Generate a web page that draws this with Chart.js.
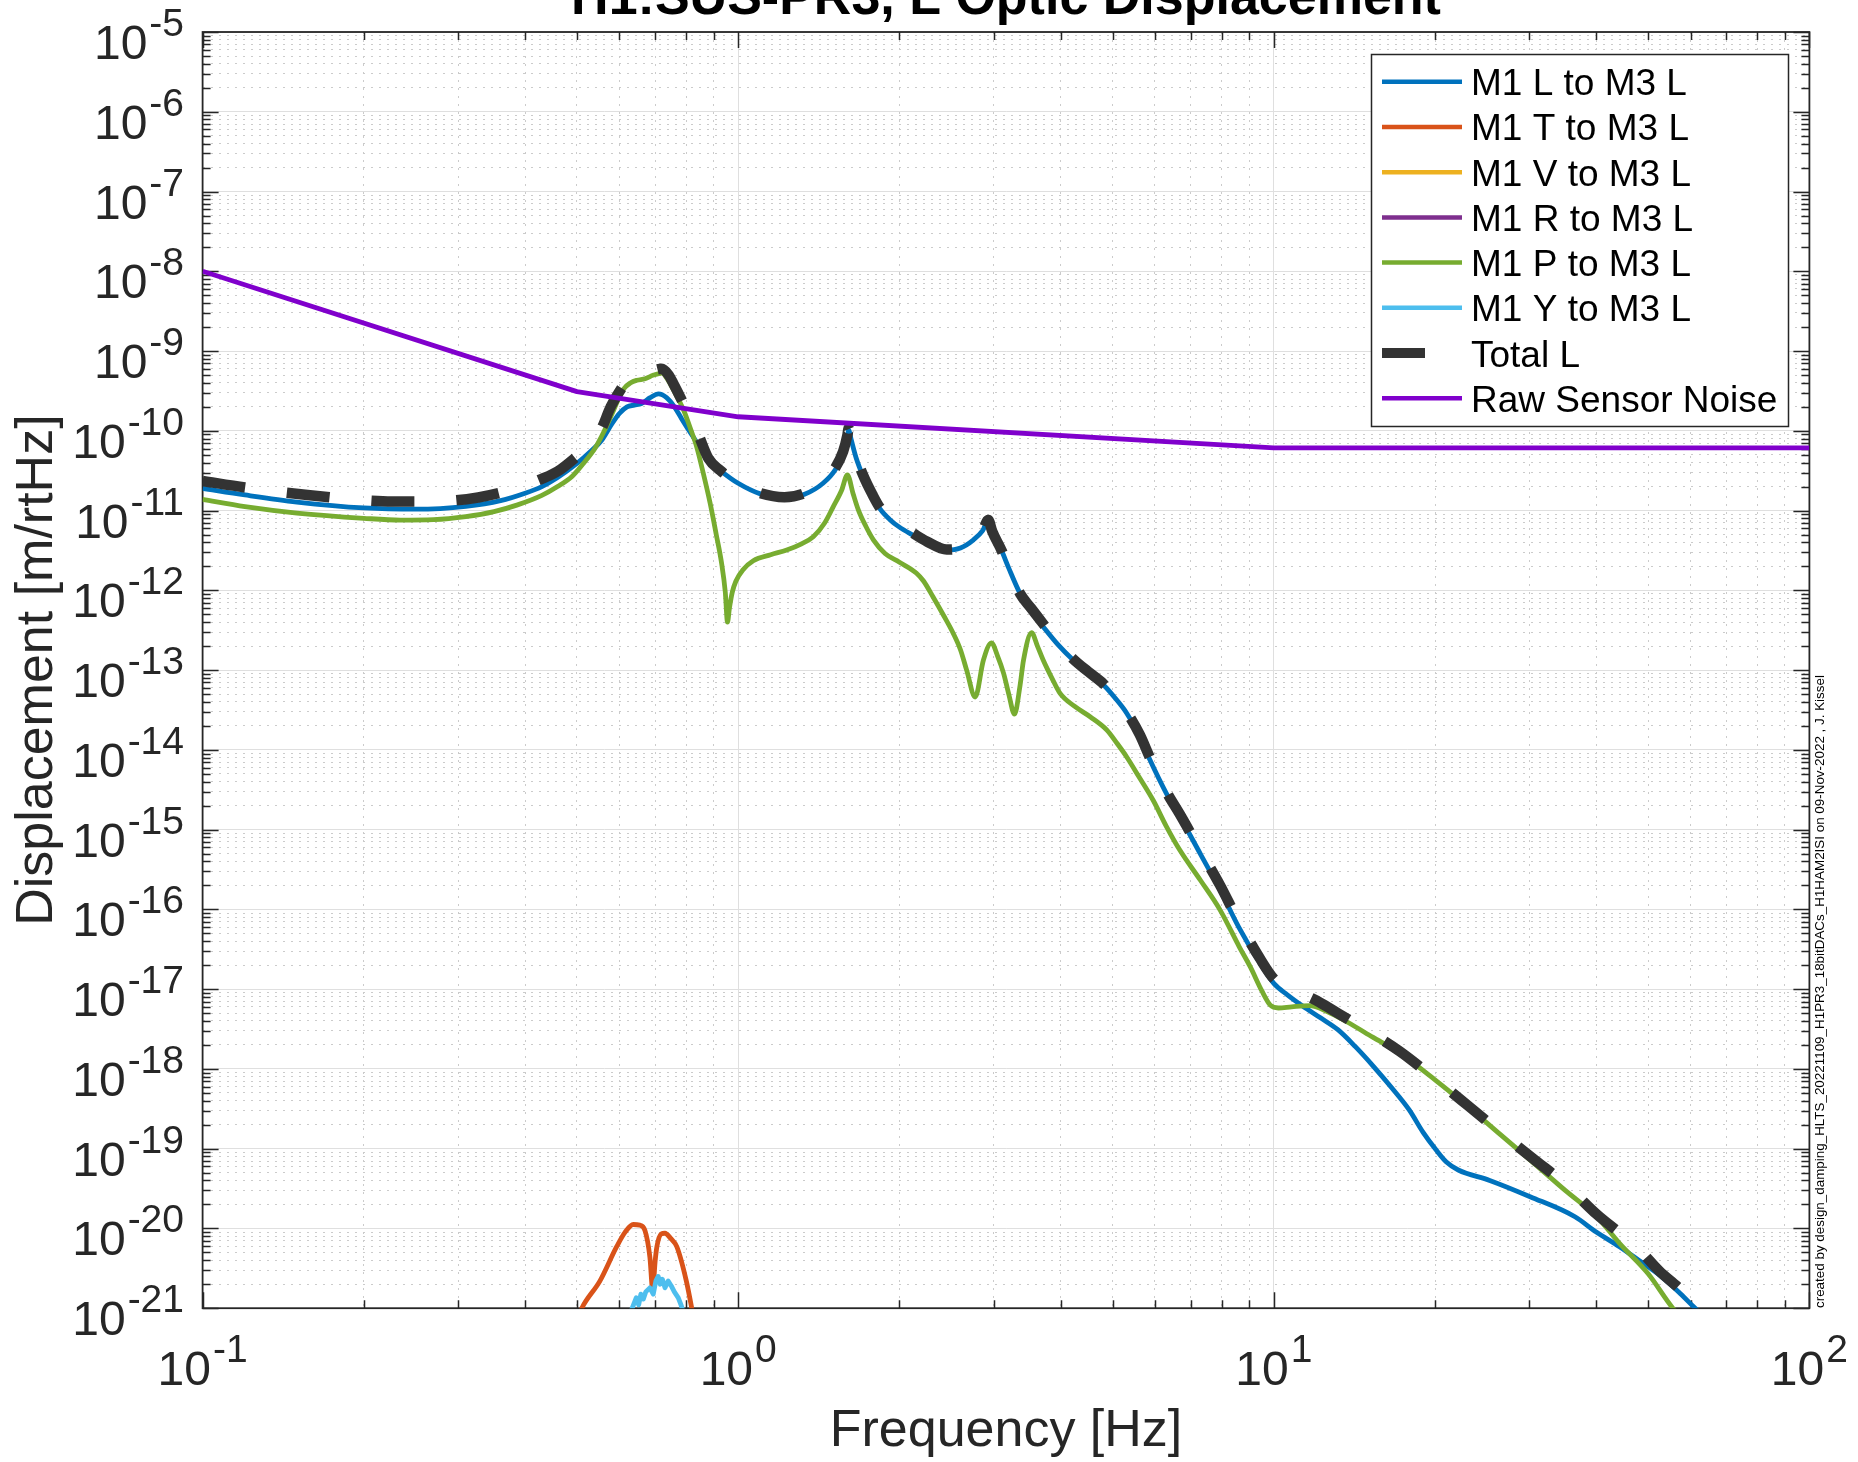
<!DOCTYPE html>
<html>
<head>
<meta charset="utf-8">
<script src="https://cdn.jsdelivr.net/npm/chart.js@4.4.0/dist/chart.umd.min.js"></script>
<style>
html,body{margin:0;padding:0;background:#fff;overflow:hidden}
#wrap{width:1858px;height:1462px}
</style>
</head>
<body>
<div id="wrap"><canvas id="c" width="1858" height="1462"></canvas></div>
<script>
// ---------------- text ----------------
const titleText = 'H1:SUS-PR3, L Optic Displacement';
const xAxisLabel = 'Frequency [Hz]';
const yAxisLabel = 'Displacement [m/rtHz]';
const footnote = 'created by design_damping_HLTS_20221109_H1PR3_18bitDACs_H1HAM2ISI on 09-Nov-2022 , J. Kissel';
const seriesLabels = ['M1 L to M3 L','M1 T to M3 L','M1 V to M3 L','M1 R to M3 L','M1 P to M3 L','M1 Y to M3 L','Total L','Raw Sensor Noise'];
const seriesColors = ['#0072BD','#D95319','#EDB120','#7E2F8E','#77AC30','#4DBEEE','#333333','#8000CC'];

// ---------------- tick decades ----------------
const xTickDecades = [-1, 0, 1, 2];
const yTickDecades = [-21,-20,-19,-18,-17,-16,-15,-14,-13,-12,-11,-10,-9,-8,-7,-6,-5];

// ---------------- data (Hz, m/rtHz) ----------------
const lFreq = [0.1,0.12,0.15,0.2,0.25,0.31,0.36,0.4,0.43,0.46,0.5,0.53,0.555,0.58,0.6,0.62,0.64,0.66,0.685,0.71,0.735,0.76,0.785,0.81,0.84,0.88,0.925,1.0,1.1,1.22,1.33,1.44,1.52,1.57,1.6,1.607,1.625,1.66,1.712,1.78,1.84,1.92,2.0,2.12,2.25,2.45,2.6,2.75,2.86,2.93,2.98,3.1,3.2,3.36,3.52,3.71,3.95,4.22,4.5,4.81,5.05,5.31,5.62,5.87,6.3,6.68,7.3,7.94,8.6,9.43,10,10.6,11.3,12.2,13.17,14.2,15.36,16.6,17.9,19.0,20.1,21,22.1,25.3,30.1,36.5,40,44.2,48,52.5,57,61.2,65];
const lVals = [1.9e-11,1.57e-11,1.28e-11,1.08e-11,1.04e-11,1.13e-11,1.33e-11,1.65e-11,2.0e-11,2.6e-11,3.9e-11,5.5e-11,7.5e-11,1.2e-10,1.65e-10,2.0e-10,2.1e-10,2.2e-10,2.6e-10,2.9e-10,2.6e-10,2.0e-10,1.4e-10,1.0e-10,6.9e-11,4.3e-11,3.2e-11,2.2e-11,1.62e-11,1.43e-11,1.6e-11,2.2e-11,3.3e-11,5.2e-11,8.5e-11,1.03e-10,7.8e-11,4.6e-11,2.66e-11,1.55e-11,1.05e-11,7.7e-12,6.2e-12,4.9e-12,3.9e-12,3.2e-12,3.4e-12,4.3e-12,5.6e-12,7.6e-12,5.5e-12,3.2e-12,1.9e-12,9.1e-13,5.5e-13,3.5e-13,2.1e-13,1.34e-13,9.3e-14,6.5e-14,4.5e-14,2.9e-14,1.46e-14,7.5e-15,2.85e-15,1.45e-15,4.9e-16,1.75e-16,6.0e-17,2.1e-17,1.18e-17,8.5e-18,6.2e-18,4.4e-18,3.1e-18,1.9e-18,1.07e-18,5.8e-19,3.06e-19,1.6e-19,9.6e-20,6.8e-20,5.4e-20,4.0e-20,2.5e-20,1.4e-20,9.0e-21,5.9e-21,4.0e-21,2.6e-21,1.6e-21,1.0e-21,7e-22];

const tFreq = [0.49,0.5105,0.552,0.593,0.615,0.637,0.655,0.6695,0.684,0.6925,0.7,0.705,0.718,0.73,0.748,0.768,0.8,0.819,0.83];
const tVals = [5e-22,1.0e-21,2.2e-21,5.9e-21,9.0e-21,1.12e-20,1.1e-20,9.5e-21,4.4e-21,1.7e-21,4.0e-21,5.9e-21,8.5e-21,8.7e-21,7.5e-21,5.9e-21,2.2e-21,1.0e-21,6e-22];

const vFreq = [];
const vVals = [];
const rFreq = [];
const rVals = [];

const pFreq = [0.1,0.12,0.15,0.2,0.234,0.27,0.31,0.35,0.386,0.43,0.46,0.49,0.514,0.54,0.5625,0.585,0.61,0.63,0.647,0.67,0.695,0.72,0.74,0.757,0.79,0.815,0.8365,0.86,0.886,0.91,0.931,0.946,0.955,0.963,0.975,0.99,1.02,1.067,1.15,1.232,1.31,1.381,1.45,1.505,1.56,1.599,1.64,1.676,1.73,1.788,1.88,2.0,2.15,2.22,2.31,2.42,2.52,2.6,2.67,2.77,2.87,2.97,3.05,3.13,3.2,3.28,3.36,3.41,3.53,3.62,3.71,3.85,3.99,4.25,4.54,4.88,5.1,5.31,5.6,5.96,6.3,6.68,7.3,7.94,8.62,9.04,9.5,9.85,10.2,10.8,11.66,12.6,13.68,15.3,17.2,20,23,26.5,30.65,35,40.1,44.2,50,55.6,58];
const pVals = [1.38e-11,1.12e-11,9.3e-12,8.0e-12,7.6e-12,7.7e-12,8.4e-12,9.7e-12,1.17e-11,1.55e-11,2.0e-11,2.7e-11,3.9e-11,6.0e-11,1.0e-10,1.8e-10,3.3e-10,4.0e-10,4.3e-10,4.5e-10,5.0e-10,5.3e-10,4.3e-10,3.25e-10,1.85e-10,1.05e-10,6.3e-11,3.0e-11,1.25e-11,5.0e-12,2.2e-12,9.5e-13,4.0e-13,6.0e-13,9.5e-13,1.3e-12,1.8e-12,2.35e-12,2.8e-12,3.2e-12,3.8e-12,4.7e-12,7.0e-12,1.12e-11,1.8e-11,2.8e-11,1.6e-11,1.02e-11,6.4e-12,4.3e-12,2.9e-12,2.25e-12,1.65e-12,1.3e-12,8.3e-13,4.8e-13,2.9e-13,1.8e-13,1.0e-13,4.6e-14,1.34e-13,2.2e-13,1.5e-13,9.1e-14,5.0e-14,2.8e-14,6.5e-14,1.34e-13,2.94e-13,2.0e-13,1.34e-13,8.0e-14,5.1e-14,3.5e-14,2.6e-14,1.77e-14,1.2e-14,8.2e-15,4.6e-15,2.3e-15,1.1e-15,5.5e-16,2.3e-16,9.8e-17,3.4e-17,1.9e-17,9.5e-18,6.3e-18,5.8e-18,6.0e-18,6.2e-18,5.2e-18,3.9e-18,2.5e-18,1.57e-18,7.3e-19,3.4e-19,1.5e-19,6.5e-20,3.0e-20,1.4e-20,6.5e-21,2.7e-21,1.0e-21,7.5e-22];

const yFreq = [0.63,0.634,0.645,0.652,0.658,0.665,0.672,0.684,0.694,0.702,0.709,0.715,0.722,0.73,0.74,0.75,0.76,0.773,0.782,0.79];
const yVals = [9e-22,1.0e-21,1.35e-21,1.1e-21,1.5e-21,1.3e-21,1.6e-21,1.8e-21,1.5e-21,2.2e-21,2.5e-21,2.0e-21,2.3e-21,1.8e-21,2.2e-21,1.9e-21,1.6e-21,1.35e-21,1.1e-21,9e-22];

const totFreq = [0.1,0.12,0.157,0.2,0.226,0.27,0.327,0.38,0.43,0.46,0.5,0.53,0.555,0.578,0.6,0.62,0.647,0.67,0.695,0.72,0.74,0.757,0.785,0.815,0.84,0.88,0.925,1.0,1.1,1.22,1.33,1.44,1.52,1.57,1.6,1.607,1.625,1.66,1.712,1.78,1.84,1.92,2.0,2.12,2.25,2.45,2.6,2.75,2.86,2.93,2.98,3.1,3.2,3.36,3.52,3.71,3.95,4.22,4.5,4.81,5.05,5.31,5.62,5.87,6.3,6.68,7.3,7.94,8.6,9.43,10,10.6,11.3,12.2,13.17,14.2,15.36,17.2,20,23,26.5,30.65,35,40.1,44.2,48,52.5,57,61.2,65];
const totVals = [2.35e-11,1.95e-11,1.57e-11,1.35e-11,1.3e-11,1.3e-11,1.46e-11,1.85e-11,2.5e-11,3.1e-11,4.8e-11,6.8e-11,1.05e-10,2.0e-10,3.1e-10,4.2e-10,4.8e-10,5.0e-10,5.7e-10,6.0e-10,5.1e-10,3.9e-10,2.4e-10,1.4e-10,9.4e-11,4.5e-11,3.2e-11,2.2e-11,1.65e-11,1.47e-11,1.65e-11,2.3e-11,3.5e-11,5.5e-11,9.0e-11,1.07e-10,8.0e-11,4.8e-11,2.75e-11,1.6e-11,1.08e-11,8.0e-12,6.6e-12,5.2e-12,4.1e-12,3.25e-12,3.4e-12,4.3e-12,5.6e-12,7.6e-12,5.5e-12,3.2e-12,1.9e-12,9.1e-13,6.0e-13,3.8e-13,2.2e-13,1.38e-13,9.6e-14,6.7e-14,4.7e-14,3.0e-14,1.55e-14,8.0e-15,3.0e-15,1.55e-15,5.4e-16,2.0e-16,7.0e-17,2.4e-17,1.35e-17,1.03e-17,8.7e-18,6.8e-18,5.0e-18,3.7e-18,2.7e-18,1.65e-18,7.5e-19,3.5e-19,1.6e-19,7.3e-20,3.6e-20,1.5e-20,8.8e-21,5.5e-21,2.9e-21,1.8e-21,1.1e-21,7.5e-22];

const noiseFreq = [0.1,0.5,1.0,10,100];
const noiseVals = [1.0e-8,3.1e-10,1.5e-10,6.1e-11,6.1e-11];

// ---------------- helpers ----------------
const FONT = '"Liberation Sans", Arial, Helvetica, sans-serif';
const AXIS_COLOR = '#262626';
const MAJOR_GRID = '#dfdfdf';
const MINOR_GRID = '#cbcbcb';
const pts = (f, v) => f.map((x, i) => ({x: x, y: v[i]}));
const isDecade = v => Math.abs(Math.log10(v) - Math.round(Math.log10(v))) < 1e-6;
function decadeTicks(decs) {
  const out = [];
  for (let i = 0; i < decs.length; i++) {
    const base = Math.pow(10, decs[i]);
    if (i === decs.length - 1) { out.push(Number(base.toPrecision(3))); break; }
    for (let k = 1; k <= 9; k++) out.push(Number((k * base).toPrecision(3)));
  }
  return out;
}
const xTickValues = decadeTicks(xTickDecades);
const yTickValues = decadeTicks(yTickDecades);

const seriesData = [pts(lFreq,lVals), pts(tFreq,tVals), pts(vFreq,vVals), pts(rFreq,rVals), pts(pFreq,pVals), pts(yFreq,yVals), pts(totFreq,totVals), pts(noiseFreq,noiseVals)];

const datasets = seriesLabels.map((lab, i) => {
  const isTotal = lab === 'Total L';
  return {
    label: lab,
    data: seriesData[i],
    borderColor: seriesColors[i],
    backgroundColor: seriesColors[i],
    borderWidth: isTotal ? 10.5 : 4.8,
    borderDash: isTotal ? [43, 42] : [],
    borderCapStyle: 'butt',
    borderJoinStyle: 'round',
    pointRadius: 0,
    pointHoverRadius: 0,
    fill: false,
    tension: 0,
    cubicInterpolationMode: (lab === 'M1 Y to M3 L' || lab === 'Raw Sensor Noise') ? 'default' : 'monotone',
    clip: 0,
    order: 20 - i
  };
});

// ---------------- plugins ----------------
const framePlugin = {
  id: 'frame',
  beforeDatasetsDraw(chart) {
    const {ctx, chartArea: a, scales} = chart;
    ctx.save();
    ctx.strokeStyle = AXIS_COLOR;
    ctx.lineWidth = 1.5;
    ctx.beginPath();
    xTickValues.forEach(v => {
      const px = Math.round(scales.x.getPixelForValue(v)) + 0.5;
      const len = isDecade(v) ? 16 : 8;
      ctx.moveTo(px, a.bottom); ctx.lineTo(px, a.bottom - len);
      ctx.moveTo(px, a.top); ctx.lineTo(px, a.top + len);
    });
    yTickValues.forEach(v => {
      const py = Math.round(scales.y.getPixelForValue(v)) + 0.5;
      const len = isDecade(v) ? 16 : 8;
      ctx.moveTo(a.left, py); ctx.lineTo(a.left + len, py);
      ctx.moveTo(a.right, py); ctx.lineTo(a.right - len, py);
    });
    ctx.stroke();
    ctx.lineWidth = 1.8;
    ctx.strokeRect(a.left, a.top, a.right - a.left, a.bottom - a.top);
    ctx.restore();
  }
};

const textPlugin = {
  id: 'texts',
  afterDraw(chart) {
    const {ctx, chartArea: a, scales} = chart;
    ctx.save();
    // title (partly above the canvas, as in the reference)
    ctx.fillStyle = '#000';
    ctx.font = 'bold 52px ' + FONT;
    ctx.textAlign = 'center';
    ctx.textBaseline = 'alphabetic';
    ctx.fillText(titleText, (a.left + a.right) / 2, 14);

    // tick labels 10^n
    const baseFont = '48px ' + FONT, expFont = '39px ' + FONT;
    ctx.fillStyle = AXIS_COLOR;
    ctx.textAlign = 'left';
    xTickDecades.forEach(d => {
      const px = scales.x.getPixelForValue(Math.pow(10, d));
      ctx.font = baseFont; const wb = ctx.measureText('10').width;
      ctx.font = expFont; const we = ctx.measureText(String(d)).width;
      const start = px - (wb + 2 + we) / 2;
      ctx.font = baseFont; ctx.fillText('10', start, 1385);
      ctx.font = expFont; ctx.fillText(String(d), start + wb + 2, 1362);
    });
    yTickDecades.forEach(d => {
      const py = scales.y.getPixelForValue(Math.pow(10, d));
      ctx.font = baseFont; const wb = ctx.measureText('10').width;
      ctx.font = expFont; const we = ctx.measureText(String(d)).width;
      const start = 184 - (wb + 2 + we);
      ctx.font = baseFont; ctx.fillText('10', start, py + 27);
      ctx.font = expFont; ctx.fillText(String(d), start + wb + 2, py + 4);
    });

    // legend
    const lx = 1371, ly = 54, lw = 417, lh = 372;
    ctx.fillStyle = '#fff';
    ctx.fillRect(lx, ly, lw, lh);
    ctx.strokeStyle = AXIS_COLOR;
    ctx.lineWidth = 1.5;
    ctx.strokeRect(lx + 0.5, ly + 0.5, lw, lh);
    chart.data.datasets.forEach((ds, i) => {
      const y = 81.7 + 45.23 * i;
      ctx.save();
      ctx.strokeStyle = ds.borderColor;
      ctx.lineWidth = ds.label === 'Total L' ? 10 : 4.5;
      ctx.lineCap = 'butt';
      ctx.setLineDash(ds.borderDash || []);
      ctx.beginPath(); ctx.moveTo(1382, y); ctx.lineTo(1462, y); ctx.stroke();
      ctx.restore();
      ctx.fillStyle = '#000';
      ctx.font = '37px ' + FONT;
      ctx.textAlign = 'left';
      ctx.fillText(ds.label, 1471, y + 13.5);
    });

    // footnote (vertical, right edge)
    let fs = 14;
    ctx.font = fs + 'px "Liberation Sans Narrow", ' + FONT;
    const w0 = ctx.measureText(footnote).width;
    fs = fs * 633 / w0;
    ctx.font = fs.toFixed(2) + 'px "Liberation Sans Narrow", ' + FONT;
    ctx.translate(1824, 1308);
    ctx.rotate(-Math.PI / 2);
    ctx.fillStyle = '#000';
    ctx.textAlign = 'left';
    ctx.fillText(footnote, 0, 0);
    ctx.restore();
  }
};

// ---------------- chart ----------------
const gridColor = c => (c.tick && !isDecade(c.tick.value)) ? MINOR_GRID : MAJOR_GRID;
const gridDash = c => (c.tick && !isDecade(c.tick.value)) ? [2, 6] : [];

new Chart(document.getElementById('c'), {
  type: 'line',
  data: { datasets: datasets },
  options: {
    responsive: false,
    animation: false,
    devicePixelRatio: 1,
    parsing: false,
    normalized: true,
    events: [],
    layout: { padding: { left: 0, top: 32, right: 1858 - 1809.4, bottom: 0 } },
    plugins: { legend: { display: false }, title: { display: false }, tooltip: { enabled: false } },
    scales: {
      x: {
        type: 'logarithmic', position: 'bottom', min: 0.1, max: 100,
        afterBuildTicks: s => { s.ticks = xTickValues.map(v => ({ value: v })); },
        afterFit: s => { s.height = 1462 - 1308.2; },
        ticks: { display: false, callback: () => '' },
        grid: { drawTicks: false, color: gridColor, lineWidth: 1 },
        border: { display: false, dash: gridDash },
        title: { display: true, text: xAxisLabel, color: AXIS_COLOR, font: { family: FONT, size: 52, lineHeight: 1.15 }, padding: 0 }
      },
      y: {
        type: 'logarithmic', position: 'left', min: 1e-21, max: 1e-5,
        afterBuildTicks: s => { s.ticks = yTickValues.map(v => ({ value: v })); },
        afterFit: s => { s.width = 202.6; },
        ticks: { display: false, callback: () => '' },
        grid: { drawTicks: false, color: gridColor, lineWidth: 1 },
        border: { display: false, dash: gridDash },
        title: { display: true, text: yAxisLabel, color: AXIS_COLOR, font: { family: FONT, size: 52, lineHeight: 1.2 }, padding: { top: 6, bottom: 0 } }
      }
    }
  },
  plugins: [framePlugin, textPlugin]
});
</script>
</body>
</html>
